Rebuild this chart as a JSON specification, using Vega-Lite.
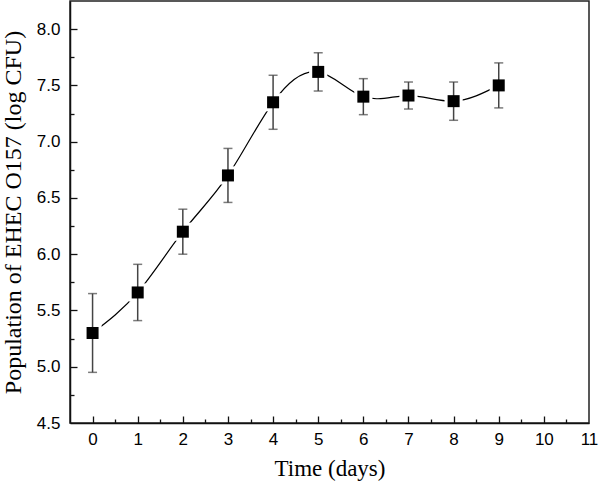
{
  "$schema": "https://vega.github.io/schema/vega-lite/v6.json",
  "autosize": {"type": "none"},
  "padding": {"left": 70, "top": 1, "right": 11, "bottom": 64},
  "width": 519,
  "height": 422,
  "background": "white",
  "config": {
    "view": {"stroke": "#222", "strokeWidth": 1.5},
    "axis": {
      "domainColor": "#111", "domainWidth": 1.5,
      "tickColor": "#111", "tickWidth": 1.3,
      "labelFont": "Liberation Sans", "labelFontSize": 17, "labelColor": "#000",
      "titleFont": "Liberation Serif", "titleFontWeight": "normal", "titleColor": "#000",
      "grid": false, "labelOverlap": false, "labelBound": false, "labelFlush": false
    }
  },
  "data": {
    "values": [
      {"day": 0, "mean": 5.30, "lo": 4.95, "hi": 5.65},
      {"day": 1, "mean": 5.66, "lo": 5.41, "hi": 5.91},
      {"day": 2, "mean": 6.20, "lo": 6.00, "hi": 6.40},
      {"day": 3, "mean": 6.70, "lo": 6.46, "hi": 6.94},
      {"day": 4, "mean": 7.35, "lo": 7.11, "hi": 7.59},
      {"day": 5, "mean": 7.62, "lo": 7.45, "hi": 7.79},
      {"day": 6, "mean": 7.40, "lo": 7.24, "hi": 7.56},
      {"day": 7, "mean": 7.41, "lo": 7.29, "hi": 7.53},
      {"day": 8, "mean": 7.36, "lo": 7.19, "hi": 7.53},
      {"day": 9, "mean": 7.50, "lo": 7.30, "hi": 7.70}
    ]
  },
  "resolve": {"axis": {"x": "independent", "y": "independent"}},
  "layer": [
    {
      "mark": {"type": "line", "interpolate": "natural", "color": "#000", "strokeWidth": 1.2},
      "encoding": {
        "x": {
          "field": "day", "type": "quantitative",
          "scale": {"domain": [-0.5, 11], "nice": false, "zero": false},
          "axis": {
            "orient": "bottom",
            "title": "Time (days)", "titleFontSize": 23,
            "values": [0,1,2,3,4,5,6,7,8,9,10,11],
            "format": "d",
            "ticks": false,
            "labelPadding": 8,
            "titlePadding": 10
          }
        },
        "y": {
          "field": "mean", "type": "quantitative",
          "scale": {"domain": [4.5, 8.25], "nice": false, "zero": false},
          "axis": {
            "orient": "left",
            "title": "Population of EHEC O157 (log CFU)", "titleFontSize": 24,
            "values": [4.5,5,5.5,6,6.5,7,7.5,8],
            "format": ".1f",
            "ticks": false,
            "labelPadding": 10,
            "titlePadding": 11
          }
        }
      }
    },
    {
      "mark": {"type": "square", "color": "white", "opacity": 1, "size": 330},
      "encoding": {
        "x": {
          "field": "day", "type": "quantitative",
          "axis": {
            "orient": "top", "offset": -422, "title": null, "labels": false, "domain": false,
            "values": [0,1,2,3,4,5,6,7,8,9,10],
            "tickSize": 7
          }
        },
        "y": {
          "field": "mean", "type": "quantitative",
          "axis": {
            "orient": "right", "offset": -519, "title": null, "labels": false, "domain": false,
            "values": [5,5.5,6,6.5,7,7.5,8],
            "tickSize": 7
          }
        }
      }
    },
    {
      "mark": {"type": "errorbar", "color": "#444", "thickness": 1.5, "ticks": {"size": 9, "color": "#444", "thickness": 1.5}},
      "encoding": {
        "x": {
          "field": "day", "type": "quantitative",
          "axis": {
            "orient": "top", "offset": -422, "title": null, "labels": false, "domain": false,
            "values": [0.5,1.5,2.5,3.5,4.5,5.5,6.5,7.5,8.5,9.5,10.5],
            "tickSize": 4
          }
        },
        "y": {
          "field": "lo", "type": "quantitative",
          "axis": {
            "orient": "right", "offset": -519, "title": null, "labels": false, "domain": false,
            "values": [4.75,5.25,5.75,6.25,6.75,7.25,7.75],
            "tickSize": 4
          }
        },
        "y2": {"field": "hi"}
      }
    },
    {
      "mark": {"type": "square", "color": "#000", "opacity": 1, "size": 144},
      "encoding": {
        "x": {"field": "day", "type": "quantitative", "axis": null},
        "y": {"field": "mean", "type": "quantitative", "axis": null}
      }
    }
  ]
}
